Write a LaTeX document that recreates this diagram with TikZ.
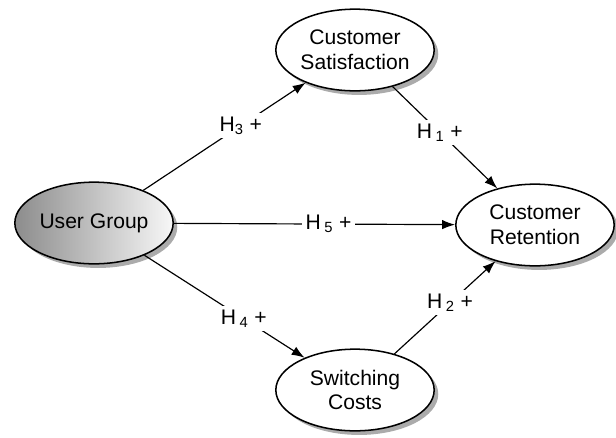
\documentclass[tikz,border=0pt]{standalone}
\usepackage{fontspec}
\setmainfont{Liberation Sans}
\usetikzlibrary{shapes.geometric}
\usetikzlibrary{shadows}
\usetikzlibrary{arrows.meta}
\usetikzlibrary{positioning}

\begin{document}
\begin{tikzpicture}
      [
      x=0.03cm,y=-0.03cm,
      construct/.style={ellipse,draw,line width=1.3pt,fill=white,minimum width=4.75cm,minimum height=2.45cm,inner sep=0pt,align=center,
        font=\fontsize{18}{21}\selectfont,drop shadow={shadow xshift=3.5pt,shadow yshift=-3.5pt,fill=black!55,opacity=0.6}},
      hyp/.style={fill=white,inner sep=3pt,font=\fontsize{18}{21}\selectfont},
      path/.style={-{Latex[length=11pt,width=8pt]},line width=1pt}
      ]
      \useasboundingbox (0,0) rectangle (616,437);
      \node (ug) at (94,223) [construct,left color=black!45,right color=black!3] {User Group};
      \node (cs) at (355,50) [construct] {Customer\\Satisfaction};
      \node (cr) at (535,225) [construct] {Customer\\Retention};
      \node (sc) at (355,390) [construct] {Switching\\Costs};
      \draw [path] (ug) to node [hyp,pos=0.6] {H\textsubscript{3} +} (cs);
      \draw [path] (cs) to node [hyp,pos=0.45] {H\,\textsubscript{1} +} (cr);
      \draw [path] (ug) to node [hyp,pos=0.55] {H\,\textsubscript{5} +} (cr);
      \draw [path] (ug) to node [hyp,pos=0.62] {H\,\textsubscript{4} +} (sc);
      \draw [path] (sc) to node [hyp,pos=0.55] {H\,\textsubscript{2} +} (cr);
    \end{tikzpicture}
\end{document}
